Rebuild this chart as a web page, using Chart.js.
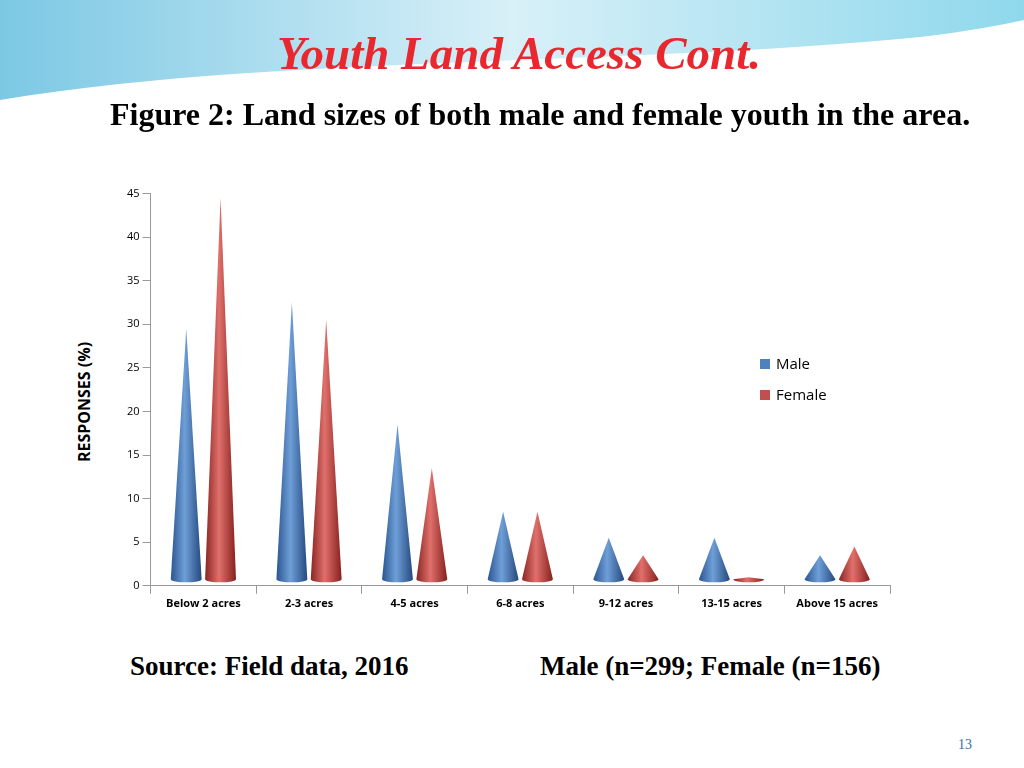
<!DOCTYPE html>
<html>
<head>
<meta charset="utf-8">
<script src="https://cdn.jsdelivr.net/npm/chart.js@4"></script>
<style>
  body { margin: 0; width: 1024px; height: 768px; background: #fff; position: relative; overflow: hidden; font-family: "Liberation Serif", serif; }
  #deco { position: absolute; left: 0; top: 0; }
  h1 { position: absolute; top: 26px; left: 0; width: 1038px; text-align: center; margin: 0; font-size: 47px; font-style: italic; font-weight: bold; color: #e8282e; }
  .sub { position: absolute; top: 96px; left: 110px; font-size: 32px; font-weight: bold; white-space: nowrap; }
  .src { position: absolute; top: 651px; font-size: 27px; font-weight: bold; white-space: nowrap; }
  .page { position: absolute; top: 737px; left: 958px; font-size: 14px; color: #3a6ea5; }
  #wrap { position: absolute; left: 70px; top: 184px; width: 840px; height: 429px; }
  .ylab { position: absolute; left: 84px; top: 402px; transform: translate(-50%, -50%) rotate(-90deg); font-family: "Open Sans", sans-serif; font-weight: bold; font-size: 16px; white-space: nowrap; }
  .leg { position: absolute; left: 760px; font-family: "Open Sans", sans-serif; font-size: 15px; }
  .leg span { display: inline-block; width: 10px; height: 10px; margin-right: 6px; }
</style>
</head>
<body>
<canvas id="deco" width="1024" height="120"></canvas>
<h1>Youth Land Access Cont.</h1>
<div class="sub">Figure 2: Land sizes of both male and female youth in the area.</div>
<div class="ylab">RESPONSES (%)</div>
<div id="wrap"><canvas id="chart"></canvas></div>
<div class="leg" style="top:353px"><span style="background:#4f81bd"></span>Male</div>
<div class="leg" style="top:384px"><span style="background:#c0504d"></span>Female</div>
<div class="src" style="left:130px">Source: Field data, 2016</div>
<div class="src" style="left:540px">Male (n=299; Female (n=156)</div>
<div class="page">13</div>
<script>
var categories = ['Below 2 acres', '2-3 acres', '4-5 acres', '6-8 acres', '9-12 acres', '13-15 acres', 'Above 15 acres'];
var maleValues = [29.5, 32.5, 18.5, 8.5, 5.5, 5.5, 3.5];
var femaleValues = [44.5, 30.5, 13.5, 8.5, 3.5, 0.3, 4.5];
var yTicks = [0, 5, 10, 15, 20, 25, 30, 35, 40, 45];

// decorative swoosh at the top
var d = document.getElementById('deco').getContext('2d');
var g = d.createLinearGradient(0, 0, 1024, 0);
g.addColorStop(0, '#7cc8e4'); g.addColorStop(0.5, '#d8f0f8'); g.addColorStop(1, '#8fd8ec');
d.fillStyle = g;
d.beginPath(); d.moveTo(0, 0); d.lineTo(1024, 0); d.lineTo(1024, 20);
d.bezierCurveTo(800, 70, 400, 50, 0, 105); d.closePath(); d.fill();
d.fillStyle = '#fff';
d.beginPath(); d.moveTo(0, 100); d.bezierCurveTo(300, 50, 700, 70, 1024, 25); d.lineTo(1024, 60);
d.bezierCurveTo(700, 90, 300, 70, 0, 120); d.closePath(); d.fill();

var cones = {
  id: 'cones',
  afterDatasetsDraw: function(chart) {
    var ctx = chart.ctx;
    var cols = [['#2a5590', '#6f9fd8', '#24497e'], ['#8a2522', '#e0706c', '#86201d']];
    chart.data.datasets.forEach(function(ds, di) {
      chart.getDatasetMeta(di).data.forEach(function(bar) {
        var w = bar.width / 2, x = bar.x, top = bar.y, base = bar.base - 6;
        var gr = ctx.createLinearGradient(x - w, 0, x + w, 0);
        gr.addColorStop(0, cols[di][0]); gr.addColorStop(0.45, cols[di][1]); gr.addColorStop(1, cols[di][2]);
        ctx.save();
        ctx.fillStyle = gr;
        ctx.beginPath();
        ctx.moveTo(x, Math.min(top, base - 2));
        ctx.lineTo(x + w, base);
        ctx.ellipse(x, base, w, 3, 0, 0, Math.PI);
        ctx.closePath();
        ctx.fill();
        ctx.restore();
      });
    });
  }
};

new Chart(document.getElementById('chart'), {
  type: 'bar',
  data: {
    labels: categories,
    datasets: [
      { label: 'Male', data: maleValues, backgroundColor: 'rgba(0,0,0,0)' },
      { label: 'Female', data: femaleValues, backgroundColor: 'rgba(0,0,0,0)' }
    ]
  },
  options: {
    responsive: true,
    maintainAspectRatio: false,
    animation: false,
    layout: { padding: { left: 54, right: 20, top: 8 } },
    plugins: { legend: { display: false }, tooltip: { enabled: false } },
    datasets: { bar: { categoryPercentage: 0.65, barPercentage: 0.9 } },
    scales: {
      x: {
        grid: { display: true, drawOnChartArea: false, color: '#999', offset: true },
        border: { color: '#999' },
        ticks: { color: '#000', font: { family: 'Open Sans', size: 11, weight: 'bold' }, maxRotation: 0 }
      },
      y: {
        min: 0, max: 45,
        afterBuildTicks: function(axis) { axis.ticks = yTicks.map(function(v) { return { value: v }; }); },
        grid: { drawOnChartArea: false, color: '#999' },
        border: { color: '#999' },
        ticks: { color: '#000', font: { family: 'Open Sans', size: 11 } }
      }
    }
  },
  plugins: [cones]
});
</script>
</body>
</html>
